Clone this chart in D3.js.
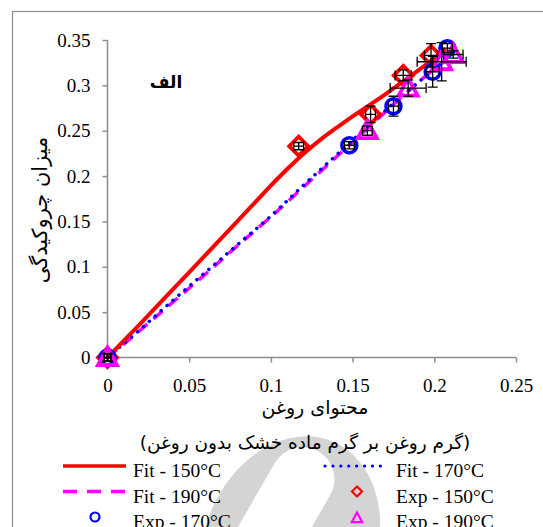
<!DOCTYPE html>
<html>
<head>
<meta charset="utf-8">
<script src="https://cdn.jsdelivr.net/npm/d3@7"></script>
<style>
body { margin:0; background:#fff; }
svg { display:block; }
.serif { font-family: "Liberation Serif", "Times New Roman", serif; }
</style>
</head>
<body>
<svg width="543" height="527"></svg>
<script>
// tick labels
var xTicks = [0, 0.05, 0.1, 0.15, 0.2, 0.25]
var xTickLabels = ["0", "0.05", "0.1", "0.15", "0.2", "0.25"]
var yTicks = [0, 0.05, 0.1, 0.15, 0.2, 0.25, 0.3, 0.35]
var yTickLabels = ["0", "0.05", "0.1", "0.15", "0.2", "0.25", "0.3", "0.35"]

// fitted curves
var fit150X = [0, 0.02, 0.04, 0.06, 0.08, 0.1, 0.11, 0.12, 0.13, 0.14, 0.15, 0.16, 0.17, 0.18, 0.19, 0.2, 0.207]
var fit150Y = [0, 0.037, 0.075, 0.113, 0.151, 0.19, 0.208, 0.225, 0.24, 0.253, 0.266, 0.278, 0.29, 0.303, 0.316, 0.33, 0.34]
var fit170X = [0, 0.02, 0.04, 0.06, 0.08, 0.1, 0.12, 0.14, 0.16, 0.18, 0.2, 0.21]
var fit170Y = [0, 0.031, 0.063, 0.094, 0.125, 0.156, 0.19, 0.223, 0.256, 0.288, 0.318, 0.333]
var fit190X = [0, 0.02, 0.04, 0.06, 0.08, 0.1, 0.12, 0.14, 0.16, 0.18, 0.2, 0.212]
var fit190Y = [0, 0.03, 0.061, 0.092, 0.124, 0.155, 0.188, 0.221, 0.254, 0.287, 0.318, 0.334]

// experimental points + error bars
var exp150X = [0, 0.117, 0.161, 0.181, 0.198]
var exp150Y = [0, 0.233, 0.268, 0.311, 0.333]
var exp150XErr = [0.002, 0.003, 0.003, 0.005, 0.004]
var exp150YErr = [0.004, 0.004, 0.009, 0.006, 0.013]

var exp170X = [0, 0.148, 0.175, 0.199, 0.208]
var exp170Y = [0, 0.234, 0.277, 0.315, 0.341]
var exp170XErr = [0.002, 0.003, 0.003, 0.004, 0.003]
var exp170YErr = [0.004, 0.004, 0.011, 0.017, 0.005]

var exp190X = [0, 0.159, 0.184, 0.2045, 0.2116]
var exp190Y = [0, 0.25, 0.297, 0.326, 0.334]
var exp190XErr = [0.002, 0.003, 0.011, 0.015, 0.006]
var exp190YErr = [0.004, 0.005, 0.009, 0.021, 0.004]

var svg = d3.select("svg")

var xScale = d3.scaleLinear().domain([0, 0.25]).range([107.5, 516])
var yScale = d3.scaleLinear().domain([0, 0.35]).range([357.5, 40])

var zip = function(xs, ys)
{
    return xs.map(function(x, i){ return [x, ys[i]] })
}

// watermark, sits behind everything
var wm = svg.append("g").attr("class", "watermark")
wm.append("ellipse")
    .attr("cx", 290).attr("cy", 545)
    .attr("rx", 86).attr("ry", 112)
    .attr("transform", "rotate(22,290,545)")
    .attr("fill", "#d4d4d4")
wm.append("rect")
    .attr("x", 244).attr("y", 440)
    .attr("width", 64).attr("height", 170)
    .attr("rx", 32)
    .attr("transform", "rotate(30,276,525)")
    .attr("fill", "#fff")

// outer frame
svg.append("rect")
    .attr("x", 12.5).attr("y", 11.5)
    .attr("width", 560).attr("height", 560)
    .attr("fill", "none")
    .attr("stroke", "#8c8c8c")
    .attr("stroke-width", 1.2)

// axes
var xAxis = d3.axisBottom(xScale)
    .tickValues(xTicks)
    .tickSize(5)
    .tickPadding(16)
    .tickFormat(function(d, i){ return xTickLabels[i] })
var yAxis = d3.axisLeft(yScale)
    .tickValues(yTicks)
    .tickSize(5)
    .tickPadding(12)
    .tickFormat(function(d, i){ return yTickLabels[i] })

var gx = svg.append("g").attr("transform", "translate(0,357.5)").call(xAxis)
var gy = svg.append("g").attr("transform", "translate(107.5,0)").call(yAxis)

;[gx, gy].forEach(function(g)
{
    g.attr("font-family", "Liberation Serif").attr("font-size", 19)
    g.select(".domain").attr("stroke", "#8c8c8c").attr("stroke-width", 1.5)
    g.selectAll(".tick line").attr("stroke", "#8c8c8c").attr("stroke-width", 1.5)
    g.selectAll(".tick text")
        .attr("fill", "#000")
        .attr("class", "serif")
        .style("font-family", "'Liberation Serif', serif")
})
gy.select(".domain").attr("d", "M0,357.5V40")
gx.select(".domain").attr("d", "M107.5,0H516")

// fit lines
var line = d3.line()
    .x(function(d){ return xScale(d[0]) })
    .y(function(d){ return yScale(d[1]) })
    .curve(d3.curveMonotoneX)

svg.append("path").datum(zip(fit190X, fit190Y))
    .attr("d", line).attr("fill", "none")
    .attr("stroke", "#ff00ff").attr("stroke-width", 3.5)
    .attr("stroke-dasharray", "12,8")
svg.append("path").datum(zip(fit170X, fit170Y))
    .attr("d", line).attr("fill", "none")
    .attr("stroke", "#0000ff").attr("stroke-width", 3.5)
    .attr("stroke-linecap", "round")
    .attr("stroke-dasharray", "0.1,7.8")
// 150 has a bend near 0.12, basis rounds it off
svg.append("path").datum(zip(fit150X, fit150Y))
    .attr("d", line.curve(d3.curveBasis)).attr("fill", "none")
    .attr("stroke", "#ff0000").attr("stroke-width", 4)

// markers
var diamond = function(s){ return "M0," + (-s) + "L" + s + ",0L0," + s + "L" + (-s) + ",0Z" }
var triangle = function(s){ return "M0," + (-s) + "L" + (s * 0.95) + "," + (s * 0.75) + "L" + (-s * 0.95) + "," + (s * 0.75) + "Z" }

var drawExp = function(xs, ys, xerr, yerr, kind, color)
{
    var pts = xs.map(function(x, i){ return {x:x, y:ys[i], ex:xerr[i], ey:yerr[i]} })
    var g = svg.append("g").attr("class", "exp")
    var m = g.selectAll(".mk").data(pts).enter()
    if(kind == "circle")
    {
        m.append("circle")
            .attr("cx", function(d){ return xScale(d.x) })
            .attr("cy", function(d){ return yScale(d.y) })
            .attr("r", 7.5)
            .attr("fill", "none").attr("stroke", color).attr("stroke-width", 3.5)
    }
    else
    {
        m.append("path")
            .attr("d", kind == "diamond" ? diamond(9.5) : triangle(10))
            .attr("transform", function(d){ return "translate(" + xScale(d.x) + "," + yScale(d.y) + ")" })
            .attr("fill", "none").attr("stroke", color).attr("stroke-width", 3.8)
    }
    return pts
}

var drawErr = function(pts)
{
    var g = svg.append("g").attr("class", "errbars")
        .attr("stroke", "#000").attr("stroke-width", 1.3).attr("fill", "none")
    pts.forEach(function(d)
    {
        var cx = xScale(d.x), cy = yScale(d.y)
        var x1 = xScale(d.x - d.ex), x2 = xScale(d.x + d.ex)
        var y1 = yScale(d.y + d.ey), y2 = yScale(d.y - d.ey)
        var c = 5
        g.append("path").attr("d",
            "M" + x1 + "," + cy + "H" + x2 +
            "M" + x1 + "," + (cy - c) + "V" + (cy + c) +
            "M" + x2 + "," + (cy - c) + "V" + (cy + c) +
            "M" + cx + "," + y1 + "V" + y2 +
            "M" + (cx - c) + "," + y1 + "H" + (cx + c) +
            "M" + (cx - c) + "," + y2 + "H" + (cx + c))
    })
}

var p150 = drawExp(exp150X, exp150Y, exp150XErr, exp150YErr, "diamond", "#ff0000")
var p170 = drawExp(exp170X, exp170Y, exp170XErr, exp170YErr, "circle", "#0000ff")
var p190 = drawExp(exp190X, exp190Y, exp190XErr, exp190YErr, "triangle", "#ff00ff")
drawErr(p150)
drawErr(p170)
drawErr(p190)

// labels
var faFont = "'DejaVu Sans', 'Noto Sans', sans-serif"
svg.append("text")
    .attr("x", 166).attr("y", 88)
    .attr("text-anchor", "middle")
    .attr("direction", "rtl")
    .style("font-family", faFont).style("font-weight", "bold").style("font-size", "17px")
    .text("الف")

svg.append("text")
    .attr("transform", "translate(47,210) rotate(-90)")
    .attr("text-anchor", "middle")
    .attr("direction", "rtl")
    .style("font-family", faFont).style("font-size", "21px")
    .text("میزان چروکیدگی")

svg.append("text")
    .attr("x", 315).attr("y", 414)
    .attr("text-anchor", "middle")
    .attr("direction", "rtl")
    .style("font-family", faFont).style("font-size", "19px")
    .text("محتوای روغن")

svg.append("text")
    .attr("x", 305).attr("y", 449)
    .attr("text-anchor", "middle")
    .attr("direction", "rtl")
    .style("font-family", faFont).style("font-size", "18.5px")
    .text("(گرم روغن بر گرم ماده خشک بدون روغن)")

// legend
var legendNames = ["Fit - 150°C", "Fit - 170°C", "Fit - 190°C", "Exp - 150°C", "Exp - 170°C", "Exp - 190°C"]
var legendCols = [0, 1, 0, 1, 0, 1]
var legendRows = [0, 0, 1, 1, 2, 2]
var legendKind = ["solid", "dot", "dash", "diamond", "circle", "triangle"]
var legendColor = ["#ff0000", "#0000ff", "#ff00ff", "#ff0000", "#0000ff", "#ff00ff"]

var leg = svg.append("g").attr("class", "legend")
legendNames.forEach(function(name, i)
{
    var colX = legendCols[i] == 0 ? 0 : 263
    var rowY = 466 + legendRows[i] * 25.5
    var e = leg.append("g").attr("transform", "translate(" + colX + "," + rowY + ")")
    var k = legendKind[i], col = legendColor[i]
    if(k == "solid" || k == "dot" || k == "dash")
    {
        var l = e.append("line")
            .attr("x1", k == "dot" ? 325 - 263 : 63).attr("x2", k == "dot" ? 381 - 263 : 126)
            .attr("y1", 0).attr("y2", 0)
            .attr("stroke", col).attr("stroke-width", 3.5)
        if(k == "dot") l.attr("stroke-linecap", "round").attr("stroke-dasharray", "0.1,7.8").attr("stroke-width", 3.2)
        if(k == "dash") l.attr("stroke-dasharray", "14,10")
    }
    else if(k == "circle")
    {
        e.append("circle").attr("cx", 95).attr("cy", 0).attr("r", 4.5)
            .attr("fill", "none").attr("stroke", col).attr("stroke-width", 2.2)
    }
    else
    {
        e.append("path")
            .attr("d", k == "diamond" ? diamond(5) : triangle(5.5))
            .attr("transform", "translate(" + (357 - 263) + "," + (k == "triangle" ? 1 : 0) + ")")
            .attr("fill", "none").attr("stroke", col).attr("stroke-width", 2.2)
    }
    e.append("text")
        .attr("x", legendCols[i] == 0 ? 133 : 396 - 263)
        .attr("y", 11)
        .attr("class", "serif")
        .style("font-size", "19.5px")
        .text(name)
})
</script>
</body>
</html>
